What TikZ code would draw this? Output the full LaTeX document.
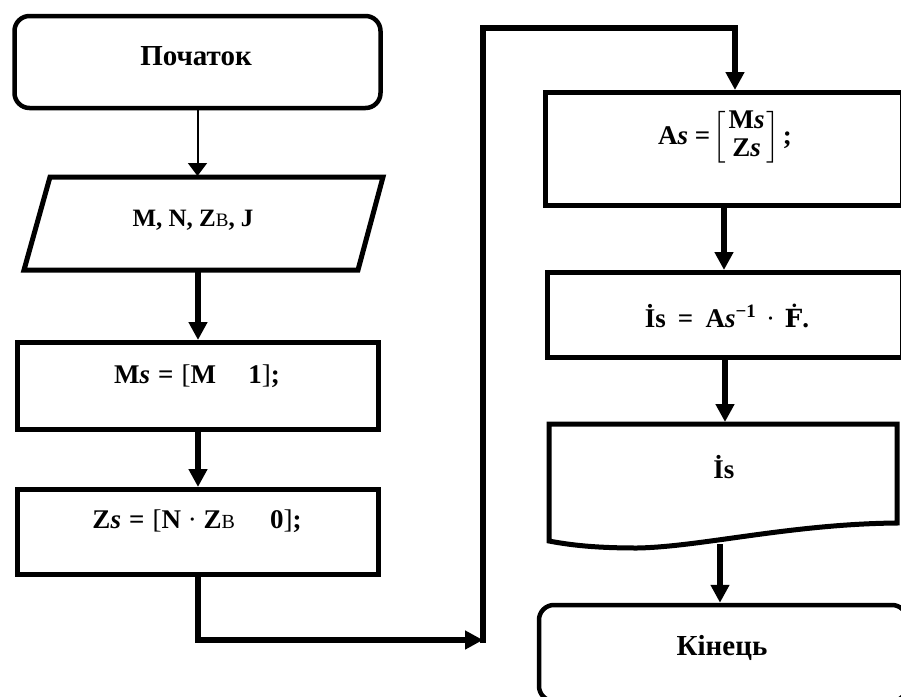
\documentclass[tikz,border=0pt]{standalone}
\usepackage{fontspec}
\setmainfont{Liberation Serif}
\newfontfamily\dejavuserif{DejaVu Serif}
\usepackage{amsmath}
\usetikzlibrary{arrows.meta}
\begin{document}
\begin{tikzpicture}[x=0.5pt,y=-0.5pt,
  box/.style={draw, rectangle, line width=2.5pt, inner sep=0pt},
  term/.style={draw, rectangle, rounded corners=7.5pt, line width=2.25pt, inner sep=0pt},
  word/.style={font=\bfseries\fontsize{14.5}{17}\selectfont, inner sep=0pt},
  formula/.style={font=\bfseries\fontsize{13.5}{16}\selectfont, inner sep=0pt},
  flow/.style={line width=3.25pt, line join=miter, -{Triangle[length=9pt,width=9pt]}},
  thinflow/.style={line width=1pt, -{Triangle[length=6.5pt,width=9.5pt]}}]
\useasboundingbox (0,0) rectangle (901,697);
\clip (0,0) rectangle (901,697);

% left column
\node[term, minimum width=183pt, minimum height=46pt] (start) at (197.5,62) {};
\node[word] (startT) at (196,56) {Початок};

\draw[line width=2.5pt, line join=miter] (50,177) -- (383,177) -- (358,270) -- (24,270) -- cycle;
\coordinate (inTop) at (197.5,176);
\coordinate (inBot) at (198,272);
\node[formula, font=\bfseries\fontsize{12.5}{15}\selectfont] (inpT) at (193,220)
  {M, N, Z{\mdseries\fontsize{9.5}{11}\selectfont B}, J};

\node[box, minimum width=180.5pt, minimum height=43.5pt] (ms) at (198,386) {};
\node[formula] (msT) at (197,376)
  {M\textit{s}\hspace{0.3em}=\hspace{0.3em}{\mdseries[}M\hspace{1.2em}1{\mdseries]};};

\node[box, minimum width=180.5pt, minimum height=42.5pt] (zs) at (198,532) {};
\node[formula] (zsT) at (197,521)
  {Z\textit{s}\hspace{0.3em}=\hspace{0.3em}{\mdseries[}N\hspace{0.25em}{\mdseries·}\hspace{0.25em}Z{\mdseries\fontsize{10}{11}\selectfont B}\hspace{1.3em}0{\mdseries]};};

% right column
\node[box, minimum width=178.5pt, minimum height=56.5pt] (as) at (724,149) {};
\node[formula] (asT) at (725,137)
  {\def\arraystretch{0.85}A\textit{s}\hspace{0.25em}=\hspace{0.1em}$\left[\begin{array}{@{\hspace{1pt}}c@{\hspace{1pt}}}\text{M\textit{s}}\\\text{Z\textit{s}}\end{array}\right]$\hspace{0.1em};};

\node[box, minimum width=177.5pt, minimum height=42.5pt] (is) at (725,315) {};
\node[formula] (isT) at (727,316)
  {İs\hspace{0.45em}=\hspace{0.45em}A\textit{s}\textsuperscript{−1}\hspace{0.35em}{\mdseries·}\hspace{0.35em}{\dejavuserif\bfseries\fontsize{12.5}{15}\selectfont Ḟ}.};

\draw[line width=2.5pt, line join=miter] (549,424) -- (897,424) -- (897,523)
  .. controls (790,524) and (700,547) .. (637,548)
  .. controls (595,548) and (570,545) .. (549,541) -- cycle;
\coordinate (docTop) at (723,422);
\coordinate (docBot) at (720,544);
\node[formula] (docT) at (724,467) {İs};

\node[term, minimum width=184pt, minimum height=48pt] (end) at (723,653) {};
\node[word] (endT) at (722,648) {Кінець};

% connectors
\draw[thinflow] (start.south) -- (start.south |- inTop);
\draw[flow] (inBot) -- (inBot |- ms.north);
\draw[flow] (ms.south) -- (zs.north);
\coordinate (bend) at (483,640);
\coordinate (top1) at (483,28);
\coordinate (top2) at (735,28);
\draw[flow] (zs.south) |- (bend);
\draw[flow] ([yshift=-1.5pt]bend) -- (top1) -- (top2) -- (top2 |- as.north);
\draw[flow] (as.south) -- (as.south |- is.north);
\draw[flow] (is.south) -- (is.south |- docTop);
\draw[flow] (docBot) -- (docBot |- end.north);
\end{tikzpicture}
\end{document}
